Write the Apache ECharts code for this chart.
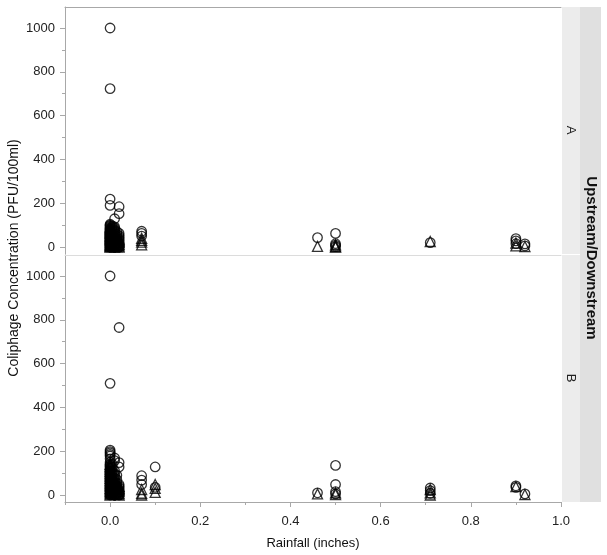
<!DOCTYPE html>
<html><head><meta charset="utf-8">
<script src="https://cdn.jsdelivr.net/npm/echarts@6/dist/echarts.min.js"></script>
<style>html,body{margin:0;padding:0;background:#fff}#c{width:607px;height:555px}</style>
</head><body><div id="c"></div>
<script>
// ---- tick labels ----
const xTickLabels = [0, 0.2, 0.4, 0.6, 0.8, 1.0];
const xMinorTicks = [-0.1, 0.1, 0.3, 0.5, 0.7, 0.9];
const yTickLabels = [0, 200, 400, 600, 800, 1000];
const yMinorTicks = [100, 300, 500, 700, 900];
const panelLabels = ['A', 'B'];
const stripTitle = 'Upstream/Downstream';
const xTitle = 'Rainfall (inches)';
const yTitle = 'Coliphage Concentration (PFU/100ml)';

// ---- Panel A: circles ----
const aCircleRain = [
  0,0,0,0,0,0,0,0,0,0,0,0,0,0,0,0,0,0,0,0,0,0,0,0,0,0,0,0,0,0,0,0,0,0,0,0,
  0.005,0.005,0.005,0.005,0.005,0.005,0.005,0.005,0.005,0.005,0.005,0.005,
  0.01,0.01,0.01,0.01,0.01,0.01,0.01,0.01,0.01,0.01,0.01,0.01,0.01,0.01,0.01,0.01,0.01,
  0.015,0.015,0.015,0.015,0.015,0.015,0.015,0.015,
  0.02,0.02,0.02,0.02,0.02,0.02,0.02,0.02,0.02,0.02,0.02,0.02,
  0.07,0.07,0.07,
  0.46, 0.5,0.5,0.5,0.5, 0.71, 0.9,0.9,0.9, 0.92,0.92
];
const aCircleConc = [
  1000,723,219,190,104,100,97,93,88,85,82,79,76,73,70,67,64,61,58,55,52,49,46,43,40,37,34,31,28,25,22,18,14,10,5,0,
  96,88,80,72,64,56,48,40,32,24,14,4,
  129,92,85,78,72,66,60,54,48,42,36,30,24,18,12,6,0,
  70,58,48,38,28,18,9,2,
  184,152,62,52,44,36,28,20,14,8,3,0,
  72,62,50,
  43, 62,15,8,2, 20, 38,28,15, 14,5
];
// ---- Panel A: triangles ----
const aTriRain = [
  0,0,0,0,0,0,0,0,0,0,0,0,0,0,0,0,0,0,0,0,
  0.005,0.005,0.005,0.005,0.005,0.005,0.005,0.005,
  0.01,0.01,0.01,0.01,0.01,0.01,0.01,0.01,
  0.015,0.015,0.015,0.015,0.015,
  0.02,0.02,0.02,0.02,0.02,0.02,
  0.07,0.07,0.07,0.07,
  0.46, 0.5,0.5,0.5, 0.71, 0.9,0.9, 0.92
];
const aTriConc = [
  92,86,80,74,68,62,56,50,45,40,35,30,25,20,16,12,8,5,2,0,
  70,60,50,40,30,20,10,2,
  55,46,38,30,22,15,8,0,
  40,30,20,10,2,
  36,28,20,12,5,0,
  40,30,22,10,
  3, 10,2,0, 25, 18,5, 2
];

// ---- Panel B: circles ----
const bCircleRain = [
  0,0,0,0,0,0,0,0,0,0,0,0,0,0,0,0,0,0,0,0,0,0,0,0,0,0,0,0,0,0,0,0,0,0,0,0,0,0,
  0.005,0.005,0.005,0.005,0.005,0.005,0.005,0.005,0.005,0.005,0.005,0.005,
  0.01,0.01,0.01,0.01,0.01,0.01,0.01,0.01,0.01,0.01,0.01,0.01,0.01,0.01,
  0.015,0.015,0.015,0.015,0.015,0.015,0.015,0.015,
  0.02,0.02,0.02,0.02,0.02,0.02,0.02,0.02,0.02,0.02,0.02,
  0.07,0.07,0.07,
  0.1,0.1,
  0.46, 0.5,0.5,0.5,0.5, 0.71,0.71,0.71, 0.9,0.9, 0.92
];
const bCircleConc = [
  1000,510,205,198,192,185,178,165,150,142,138,134,130,125,120,115,110,105,100,95,90,85,80,75,70,65,60,55,50,45,40,35,30,25,18,11,5,0,
  140,125,110,95,82,70,58,46,34,22,12,3,
  169,157,110,98,88,78,68,58,48,38,28,18,8,0,
  90,70,55,42,30,20,10,2,
  765,148,128,48,40,32,24,16,10,4,0,
  88,68,48,
  128,35,
  10, 135,48,15,5, 32,20,8, 42,35, 5
];
// ---- Panel B: triangles ----
const bTriRain = [
  0,0,0,0,0,0,0,0,0,0,0,0,0,0,0,0,0,0,0,0,
  0.005,0.005,0.005,0.005,0.005,0.005,0.005,0.005,
  0.01,0.01,0.01,0.01,0.01,0.01,0.01,
  0.015,0.015,0.015,0.015,0.015,
  0.02,0.02,0.02,0.02,0.02,0.02,
  0.07,0.07,0.07,
  0.1,0.1,0.1,
  0.46, 0.5,0.5, 0.71,0.71,0.71, 0.9, 0.92
];
const bTriConc = [
  140,132,124,116,108,100,92,84,76,68,60,52,45,38,30,23,17,11,5,0,
  110,95,80,65,50,35,20,5,
  70,58,46,34,22,12,4,
  50,38,26,14,3,
  40,32,24,15,6,0,
  25,8,0,
  48,30,12,
  5, 10,2, 25,10,0, 38, 2
];

const pairs = (xs, ys) => xs.map((x, i) => [x, ys[i]]);
const FONT = "'Liberation Sans', Arial, Helvetica, sans-serif";
const axisGray = '#a8a8a8';

function mainY(grid) {
  return {
    type: 'value', gridIndex: grid, min: -32, max: 1096, position: 'left',
    axisLine: { show: true, onZero: false, lineStyle: { color: axisGray, width: 1 } },
    axisTick: { show: true, length: 5, customValues: yTickLabels, lineStyle: { color: axisGray } },
    axisLabel: { show: true, customValues: yTickLabels, margin: 10, color: '#222', fontSize: 13, fontFamily: FONT,
      formatter: v => String(v) },
    splitLine: { show: false }
  };
}
function minorY(grid) {
  return {
    type: 'value', gridIndex: grid, min: -32, max: 1096, position: 'left',
    axisLine: { show: false, onZero: false },
    axisTick: { show: true, length: 3, customValues: yMinorTicks, lineStyle: { color: axisGray } },
    axisLabel: { show: false },
    splitLine: { show: false }
  };
}

function scatter(name, xi, yi, data, symbol, size) {
  return {
    type: 'scatter', name, xAxisIndex: xi, yAxisIndex: yi, data,
    symbol, symbolSize: size,
    itemStyle: { color: 'rgba(255,255,255,0)', borderColor: '#000', borderWidth: 1.3 },
    emphasis: { disabled: true },
    silent: true, animation: false
  };
}

const chart = echarts.init(document.getElementById('c'), null, { renderer: 'canvas' });
chart.setOption({
  animation: false,
  grid: [
    { left: 65, top: 7, width: 496, height: 247, containLabel: false },
    { left: 65, top: 255, width: 496, height: 247, containLabel: false }
  ],
  xAxis: [
    { type: 'value', gridIndex: 0, min: -0.1, max: 1.0, position: 'top',
      axisLine: { show: true, onZero: false, lineStyle: { color: axisGray } }, axisTick: { show: false },
      axisLabel: { show: false }, splitLine: { show: false } },
    { type: 'value', gridIndex: 1, min: -0.1, max: 1.0, position: 'bottom',
      axisLine: { show: true, onZero: false, lineStyle: { color: axisGray } },
      axisTick: { show: true, length: 5, customValues: xTickLabels, lineStyle: { color: axisGray } },
      axisLabel: { show: true, customValues: xTickLabels, margin: 13, color: '#222', fontSize: 13, fontFamily: FONT,
        formatter: v => v.toFixed(1) },
      splitLine: { show: false } },
    { type: 'value', gridIndex: 1, min: -0.1, max: 1.0, position: 'bottom',
      axisLine: { show: false, onZero: false },
      axisTick: { show: true, length: 3, customValues: xMinorTicks, lineStyle: { color: axisGray } },
      axisLabel: { show: false }, splitLine: { show: false } },
    { type: 'value', gridIndex: 1, min: -0.1, max: 1.0, position: 'top',
      axisLine: { show: true, onZero: false, lineStyle: { color: '#dcdcdc' } }, axisTick: { show: false },
      axisLabel: { show: false }, splitLine: { show: false } }
  ],
  yAxis: [mainY(0), minorY(0), mainY(1), minorY(1)],
  series: [
    scatter('A circles', 0, 0, pairs(aCircleRain, aCircleConc), 'circle', 9.5),
    scatter('A triangles', 0, 0, pairs(aTriRain, aTriConc), 'triangle', 10),
    scatter('B circles', 1, 2, pairs(bCircleRain, bCircleConc), 'circle', 9.5),
    scatter('B triangles', 1, 2, pairs(bTriRain, bTriConc), 'triangle', 10)
  ],
  graphic: [
    { type: 'rect', shape: { x: 562, y: 7, width: 18, height: 247 }, style: { fill: '#ececec' }, silent: true },
    { type: 'rect', shape: { x: 562, y: 255, width: 18, height: 247 }, style: { fill: '#ececec' }, silent: true },
    { type: 'rect', shape: { x: 580, y: 7, width: 21, height: 495 }, style: { fill: '#e0e0e0' }, silent: true },
    { type: 'text', x: 571, y: 130, rotation: -Math.PI / 2,
      style: { text: panelLabels[0], fill: '#222', font: '13px ' + FONT, textAlign: 'center', textVerticalAlign: 'middle' } },
    { type: 'text', x: 571, y: 378, rotation: -Math.PI / 2,
      style: { text: panelLabels[1], fill: '#222', font: '13px ' + FONT, textAlign: 'center', textVerticalAlign: 'middle' } },
    { type: 'text', x: 591, y: 258, rotation: -Math.PI / 2,
      style: { text: stripTitle, fill: '#111', font: 'bold 15px ' + FONT, textAlign: 'center', textVerticalAlign: 'middle' } },
    { type: 'text', x: 14, y: 258, rotation: Math.PI / 2,
      style: { text: yTitle, fill: '#111', font: '14px ' + FONT, textAlign: 'center', textVerticalAlign: 'middle' } },
    { type: 'text', x: 313, y: 543,
      style: { text: xTitle, fill: '#111', font: '13px ' + FONT, textAlign: 'center', textVerticalAlign: 'middle' } }
  ]
});
</script>
</body></html>
